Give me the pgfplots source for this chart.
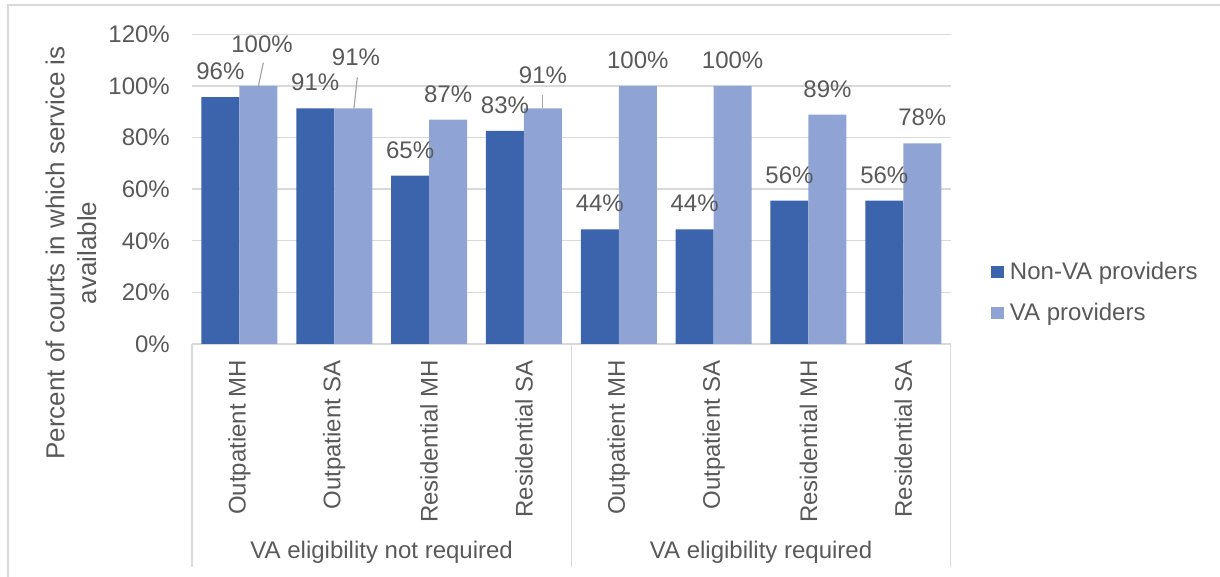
\documentclass[border=0pt]{standalone}
\usepackage{fontspec}
\setmainfont{Liberation Sans}
\usepackage{pgfplots}
\usepackage{pgfplotstable}
\pgfplotsset{compat=1.18}

\definecolor{nonva}{HTML}{3B64AC}
\definecolor{vacol}{HTML}{8FA3D4}
\definecolor{textgray}{HTML}{595959}
\definecolor{gridgray}{HTML}{D9D9D9}
\definecolor{leadgray}{HTML}{A6A6A6}

\newcommand\fs{\fontsize{24pt}{28.5pt}\selectfont}
\newcommand\fsl{\fontsize{26pt}{31.6pt}\selectfont}

% share of courts, %; dx/dy move a data label off its default place
\pgfplotstableread{
x y dx dy
0 95.65 0 0
1 91.30 0 0
2 65.22 0 0
3 82.61 0 0
4 44.44 0 0
5 44.44 0 0
6 55.56 0 0
7 55.56 0 0
}\nonvadata
\pgfplotstableread{
x y dx dy
0 100 3.6 15.7
1 91.30 2.7 25.3
2 86.96 0 0
3 91.30 0 7
4 100 0 0
5 100 0 0
6 88.89 0 0
7 77.78 0 0
}\vadata

\begin{document}
\begin{tikzpicture}
\useasboundingbox (0pt,0pt) rectangle (1220pt,577pt);
\draw[gridgray, line width=1.3pt] (8pt,-10pt) -- (8pt,572pt) -- (1230pt,572pt);

\begin{axis}[
    at={(192pt,233pt)}, anchor=south west,
    scale only axis, width=758.7pt, height=309.7pt,
    ybar=0pt, bar width=38pt,
    every axis plot post/.append style={
        legend image code/.code={\fill[##1] (0pt,-6pt) rectangle (13pt,6pt);}},
    xmin=-0.5, xmax=7.5, ymin=0, ymax=120,
    xtick={0,...,7},
    xticklabels={Outpatient MH, Outpatient SA, Residential MH, Residential SA,
                 Outpatient MH, Outpatient SA, Residential MH, Residential SA},
    ytick={0,20,...,120},
    yticklabel={\pgfmathprintnumber[assume math mode=true]{\tick}\%},
    axis x line*=bottom, axis y line*=left,
    y axis line style={draw=none},
    x axis line style={draw=gridgray, line width=1.5pt},
    major tick length=0pt,
    ymajorgrids, grid style={draw=gridgray, line width=1.3pt},
    tick label style={font=\fs, text=textgray, inner sep=0pt},
    xticklabel style={rotate=90, anchor=east},
    xticklabel shift=16pt,
    yticklabel shift=22pt,
    clip=false,
    nodes near coords={\pgfmathprintnumber[fixed,precision=0,assume math mode=true]{\pgfplotspointmeta}\%},
    visualization depends on={\thisrow{dx} \as \lblx},
    visualization depends on={\thisrow{dy} \as \lbly},
    every node near coord/.append style={font=\fs, text=textgray, inner sep=0pt,
        xshift=\lblx pt, yshift={17pt+\lbly pt}},
    legend style={at={(1.0531,0.1666)}, anchor=west, draw=none, fill=none,
        inner sep=0pt, outer sep=0pt, font=\fs, text=textgray,
        row sep=18pt, column sep=4pt, nodes={inner sep=2pt}},
    legend cell align=left,
]
\addplot[fill=nonva, draw=none] table[x=x, y=y] {\nonvadata};
\addlegendentry{Non-VA providers}
\addplot[fill=vacol, draw=none] table[x=x, y=y] {\vadata};
\addlegendentry{VA providers}

% leader lines of the moved labels
\draw[leadgray, line width=1.2pt] (axis cs:0.252,109.0) -- (axis cs:0.2,100);
\draw[leadgray, line width=1.2pt] (axis cs:1.243,103.3) -- (axis cs:1.208,91.3);
\draw[leadgray, line width=1.2pt] (axis cs:3.198,96.5) -- (axis cs:3.198,91.3);

% category group separators and group names
\draw[gridgray, line width=1.5pt] (axis cs:-0.5,0) -- ([yshift=-223pt]axis cs:-0.5,0);
\draw[gridgray, line width=1.5pt] (axis cs:3.5,0) -- ([yshift=-223pt]axis cs:3.5,0);
\draw[gridgray, line width=1.5pt] (axis cs:7.5,0) -- ([yshift=-223pt]axis cs:7.5,0);
\node[font=\fs, text=textgray] at ([yshift=-208pt]axis cs:1.5,0) {VA eligibility not required};
\node[font=\fs, text=textgray] at ([yshift=-208pt]axis cs:5.5,0) {VA eligibility required};
\end{axis}

\node[rotate=90, align=center, font=\fsl, text=textgray] at (71pt,324pt)
  {Percent of courts in which service is\\available};
\end{tikzpicture}
\end{document}
